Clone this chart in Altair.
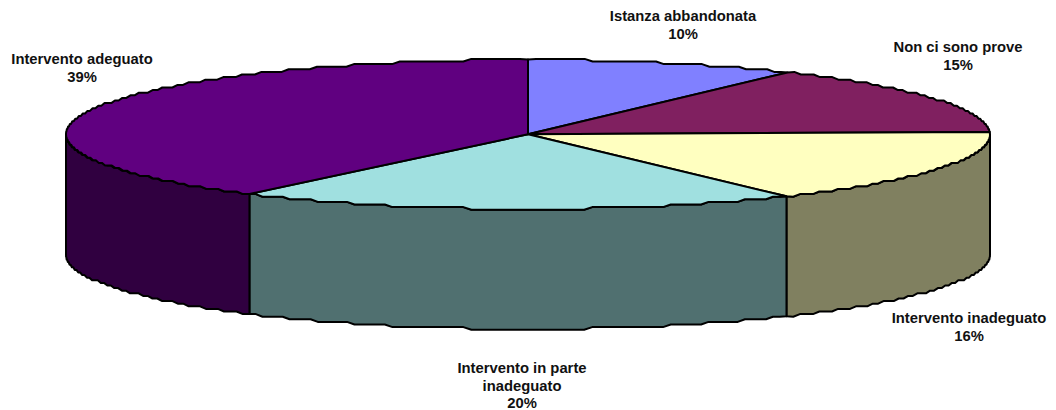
import math
import altair as alt

categories = ["Istanza abbandonata", "Non ci sono prove", "Intervento inadeguato",
              "Intervento in parte inadeguato", "Intervento adeguato"]
shares = [9.5, 15.0, 16.05, 19.75, 39.7]
percent_labels = ["10%", "15%", "16%", "20%", "39%"]
top_colors = ["#8080ff", "#802060", "#ffffc0", "#a0e0e0", "#600080"]
wall_colors = ["#404080", "#401030", "#808060", "#507070", "#300040"]

label_lines = [
    ["Istanza abbandonata", "10%"],
    ["Non ci sono prove", "15%"],
    ["Intervento inadeguato", "16%"],
    ["Intervento in parte", "inadeguato", "20%"],
    ["Intervento adeguato", "39%"],
]
label_anchor = [(683, 17), (958, 48), (969, 319), (522, 369), (82, 60)]

RX, RY, DEPTH = 462.0, 74.8, 120.0
CX, CY = 528.0, 134.3
MARGIN = 8
FONT_SIZE = 14.8


def rim(a0, a1, drop=0.0):
    """Rim of the flattened disc between two angles, in disc units."""
    n = max(2, int(abs(a1 - a0) / 1.0))
    pts = []
    for i in range(n + 1):
        a = math.radians(a0 + (a1 - a0) * i / n)
        y_px = RY * math.cos(a)
        if 0 < i < n:
            y_px = round(y_px / 2.6) * 2.6
        pts.append([math.sin(a), (y_px - drop) / RX])
    return pts


def feature(ring, color):
    ring = ring + [ring[0]]
    return {"type": "Feature", "properties": {"fill": color},
            "geometry": {"type": "Polygon", "coordinates": [ring]}}


walls, tops = [], []
start = 0.0
for share, top, wall in zip(shares, top_colors, wall_colors):
    end = start + share * 3.6
    tops.append(feature([[0.0, 0.0]] + rim(start, end), top))
    w0, w1 = max(start, 90.0), min(end, 270.0)
    if w1 > w0:
        walls.append(feature(rim(w0, w1) + rim(w0, w1, DEPTH)[::-1], wall))
    start = end
features = walls + tops

pie = alt.Chart(alt.InlineData(values=features, format=alt.DataFormat(type="json"))).mark_geoshape(
    stroke="black", strokeWidth=2, strokeJoin="round"
).encode(
    fill=alt.Fill("properties.fill:N", scale=None, legend=None)
).project(type="identity", reflectY=True, scale=RX, translate=[CX - MARGIN, CY - MARGIN])

layers = [pie]
for lines, (x, y) in zip(label_lines, label_anchor):
    layers.append(
        alt.Chart(alt.InlineData(values=[{"label": lines}])).mark_text(
            font="Liberation Sans", fontWeight="bold", fontSize=FONT_SIZE, color="#111111",
            align="center", baseline="middle", lineHeight=17.5,
        ).encode(
            text="label:N",
            x=alt.value(x - MARGIN),
            y=alt.value(y - MARGIN),
        )
    )

chart = alt.layer(*layers).properties(
    width=1040, height=402, padding=0, autosize="none"
).configure_view(stroke=None)

chart.save("out.html", embed_options={"renderer": "svg", "actions": False})
